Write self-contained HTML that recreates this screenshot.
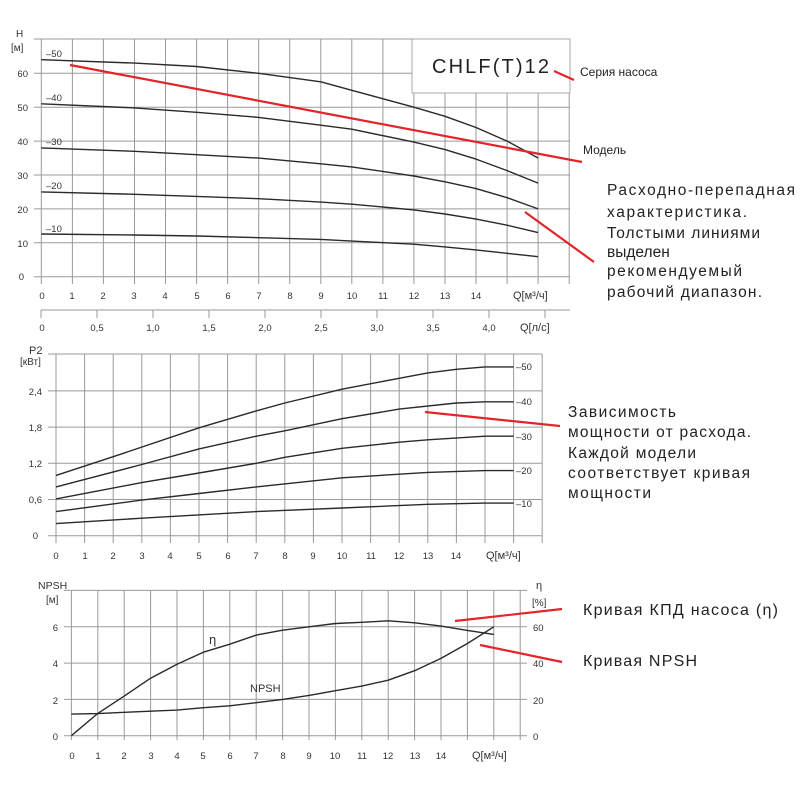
<!DOCTYPE html>
<html><head><meta charset="utf-8"><style>
html,body{margin:0;padding:0;background:#fff;}
svg{display:block;font-family:"Liberation Sans","DejaVu Sans",sans-serif;}
.g{stroke:#9a9a9a;stroke-width:1;}
.c{fill:none;stroke:#2a2a2a;stroke-width:1.4;stroke-linejoin:round;}
.t{font-size:9.5px;fill:#333;}
.r{stroke:#e3242b;stroke-width:2.2;}
.a{font-size:15.5px;fill:#222;}
</style></head><body>
<svg width="800" height="800" viewBox="0 0 800 800">
<!-- TOP CHART -->
<g class="g">
<line x1="41.3" y1="39" x2="41.3" y2="284"/><line x1="72.4" y1="39" x2="72.4" y2="284"/><line x1="103.4" y1="39" x2="103.4" y2="284"/><line x1="134.5" y1="39" x2="134.5" y2="284"/><line x1="165.5" y1="39" x2="165.5" y2="284"/><line x1="196.6" y1="39" x2="196.6" y2="284"/><line x1="227.6" y1="39" x2="227.6" y2="284"/><line x1="258.7" y1="39" x2="258.7" y2="284"/><line x1="289.7" y1="39" x2="289.7" y2="284"/><line x1="320.8" y1="39" x2="320.8" y2="284"/><line x1="351.8" y1="39" x2="351.8" y2="284"/><line x1="382.9" y1="39" x2="382.9" y2="284"/><line x1="413.9" y1="39" x2="413.9" y2="284"/><line x1="445" y1="39" x2="445" y2="284"/><line x1="476" y1="39" x2="476" y2="284"/><line x1="507.1" y1="39" x2="507.1" y2="284"/><line x1="538.1" y1="39" x2="538.1" y2="284"/><line x1="569.2" y1="39" x2="569.2" y2="284"/>
<line x1="34" y1="276.7" x2="570" y2="276.7"/><line x1="34" y1="242.8" x2="570" y2="242.8"/><line x1="34" y1="208.9" x2="570" y2="208.9"/><line x1="34" y1="175" x2="570" y2="175"/><line x1="34" y1="141.1" x2="570" y2="141.1"/><line x1="34" y1="107.2" x2="570" y2="107.2"/><line x1="34" y1="73.3" x2="570" y2="73.3"/><line x1="34" y1="39" x2="570" y2="39"/>
<line x1="41" y1="310" x2="570" y2="310"/>
<line x1="41" y1="310" x2="41" y2="318"/><line x1="97" y1="310" x2="97" y2="318"/><line x1="153" y1="310" x2="153" y2="318"/><line x1="209" y1="310" x2="209" y2="318"/><line x1="265" y1="310" x2="265" y2="318"/><line x1="321" y1="310" x2="321" y2="318"/><line x1="377" y1="310" x2="377" y2="318"/><line x1="433" y1="310" x2="433" y2="318"/><line x1="489" y1="310" x2="489" y2="318"/><line x1="545" y1="310" x2="545" y2="318"/>
</g>
<rect x="412" y="39" width="158" height="54" fill="#fff" stroke="#aaa"/>
<text x="432" y="73" font-size="20" fill="#222" textLength="117">CHLF(T)12</text>
<polyline class="c" points="41.3,59.7 134.5,63.1 196.6,66.5 258.7,73.3 320.8,81.8 351.8,90.3 413.9,107.2 445,116.3 476,127.5 507.1,141.1 538.1,158"/>
<polyline class="c" points="41.3,103.8 134.5,107.9 196.6,112.3 258.7,117.4 320.8,125.2 351.8,129.2 413.9,142.1 445,149.6 476,159.1 507.1,170.6 538.1,183.1"/>
<polyline class="c" points="41.3,147.9 134.5,151.3 196.6,154.7 258.7,158.1 320.8,163.8 351.8,166.9 413.9,176 445,181.8 476,188.6 507.1,197.7 538.1,208.9"/>
<polyline class="c" points="41.3,191.9 134.5,194.3 196.6,196.4 258.7,198.7 320.8,202.1 351.8,204.2 413.9,209.9 445,214 476,219.1 507.1,225.2 538.1,232.6"/>
<polyline class="c" points="41.3,234 134.5,235 196.6,236 258.7,237.7 320.8,239.4 351.8,241.1 413.9,244.2 445,246.9 476,249.9 507.1,253.3 538.1,256.7"/>
<g class="t">
<text x="46" y="57">‒50</text><text x="46" y="101">‒40</text><text x="46" y="145">‒30</text><text x="46" y="189">‒20</text><text x="46" y="232">‒10</text>
<text x="16" y="37" font-size="10">H</text><text x="11" y="51" font-size="10">[м]</text>
<g text-anchor="end"><text x="28" y="77">60</text><text x="28" y="111">50</text><text x="28" y="145">40</text><text x="28" y="179">30</text><text x="28" y="213">20</text><text x="28" y="247">10</text><text x="24" y="280">0</text></g>
<g text-anchor="middle"><text x="42" y="299">0</text><text x="72" y="299">1</text><text x="103" y="299">2</text><text x="134" y="299">3</text><text x="165" y="299">4</text><text x="197" y="299">5</text><text x="228" y="299">6</text><text x="259" y="299">7</text><text x="290" y="299">8</text><text x="321" y="299">9</text><text x="352" y="299">10</text><text x="383" y="299">11</text><text x="414" y="299">12</text><text x="445" y="299">13</text><text x="476" y="299">14</text>
<text x="42" y="331">0</text><text x="97" y="331">0,5</text><text x="153" y="331">1,0</text><text x="209" y="331">1,5</text><text x="265" y="331">2,0</text><text x="321" y="331">2,5</text><text x="377" y="331">3,0</text><text x="433" y="331">3,5</text><text x="489" y="331">4,0</text></g>
<text x="513" y="299" font-size="11">Q[м³/ч]</text><text x="520" y="331" font-size="11">Q[л/с]</text>
</g>
<line class="r" x1="70" y1="65" x2="582" y2="162"/>
<line class="r" x1="554" y1="71" x2="574" y2="80"/>
<line class="r" x1="525" y1="212" x2="594" y2="262"/>
<text x="580" y="76" font-size="12" fill="#222">Серия насоса</text>
<text x="583" y="154" font-size="12" fill="#222">Модель</text>
<g class="a">
<text x="607" y="195" textLength="188">Расходно-перепадная</text>
<text x="607" y="217" textLength="140">характеристика.</text>
<text x="607" y="238" textLength="153">Толстыми линиями</text>
<text x="607" y="257">выделен</text>
<text x="607" y="276" textLength="135">рекомендуемый</text>
<text x="607" y="297" textLength="155">рабочий диапазон.</text>
</g>
<!-- MIDDLE CHART -->
<g class="g">
<line x1="56" y1="354" x2="56" y2="543"/><line x1="84.6" y1="354" x2="84.6" y2="543"/><line x1="113.2" y1="354" x2="113.2" y2="543"/><line x1="141.8" y1="354" x2="141.8" y2="543"/><line x1="170.4" y1="354" x2="170.4" y2="543"/><line x1="199" y1="354" x2="199" y2="543"/><line x1="227.6" y1="354" x2="227.6" y2="543"/><line x1="256.2" y1="354" x2="256.2" y2="543"/><line x1="284.8" y1="354" x2="284.8" y2="543"/><line x1="313.4" y1="354" x2="313.4" y2="543"/><line x1="342" y1="354" x2="342" y2="543"/><line x1="370.6" y1="354" x2="370.6" y2="543"/><line x1="399.2" y1="354" x2="399.2" y2="543"/><line x1="427.8" y1="354" x2="427.8" y2="543"/><line x1="456.4" y1="354" x2="456.4" y2="543"/><line x1="485" y1="354" x2="485" y2="543"/><line x1="513.6" y1="354" x2="513.6" y2="543"/><line x1="542.2" y1="354" x2="542.2" y2="543"/>
<line x1="48" y1="535.7" x2="542" y2="535.7"/><line x1="48" y1="499.5" x2="542" y2="499.5"/><line x1="48" y1="463.3" x2="542" y2="463.3"/><line x1="48" y1="427.1" x2="542" y2="427.1"/><line x1="48" y1="390.9" x2="542" y2="390.9"/><line x1="48" y1="354" x2="542" y2="354"/>
</g>
<polyline class="c" points="56,475.4 113.2,456.7 199,427.8 256.2,410.9 284.8,403 342,389.2 399.2,378.3 427.8,372.9 456.4,369.3 485,366.9 513.6,366.9"/>
<polyline class="c" points="56,486.9 141.8,464.5 199,448.9 256.2,436.2 284.8,430.8 342,418.7 399.2,409.1 456.4,403 485,401.8 513.6,401.8"/>
<polyline class="c" points="56,498.9 141.8,482.6 199,473 256.2,463.3 284.8,457.3 342,448.3 399.2,442.2 427.8,439.8 485,436.2 513.6,436.2"/>
<polyline class="c" points="56,511.6 141.8,500.1 199,493.5 256.2,486.9 342,477.8 427.8,472.4 485,470.6 513.6,470.6"/>
<polyline class="c" points="56,523.6 141.8,518.2 256.2,511.6 342,508 427.8,504.3 485,503.1 513.6,503.1"/>
<g class="t">
<text x="516" y="370">‒50</text><text x="516" y="405">‒40</text><text x="516" y="440">‒30</text><text x="516" y="474">‒20</text><text x="516" y="507">‒10</text>
<text x="29" y="354" font-size="11">P2</text><text x="20" y="365" font-size="10">[кВт]</text>
<g text-anchor="end"><text x="42" y="395">2,4</text><text x="42" y="431">1,8</text><text x="42" y="467">1,2</text><text x="42" y="503">0,6</text><text x="38" y="539">0</text></g>
<g text-anchor="middle"><text x="56" y="559">0</text><text x="85" y="559">1</text><text x="113" y="559">2</text><text x="142" y="559">3</text><text x="170" y="559">4</text><text x="199" y="559">5</text><text x="228" y="559">6</text><text x="256" y="559">7</text><text x="285" y="559">8</text><text x="313" y="559">9</text><text x="342" y="559">10</text><text x="371" y="559">11</text><text x="399" y="559">12</text><text x="428" y="559">13</text><text x="456" y="559">14</text></g>
<text x="486" y="559" font-size="11">Q[м³/ч]</text>
</g>
<line class="r" x1="425" y1="412" x2="560" y2="426"/>
<g class="a">
<text x="568" y="417" textLength="108">Зависимость</text>
<text x="568" y="437" textLength="183">мощности от расхода.</text>
<text x="568" y="458" textLength="128">Каждой модели</text>
<text x="568" y="478" textLength="182">соответствует кривая</text>
<text x="568" y="498" textLength="83">мощности</text>
</g>
<!-- BOTTOM CHART -->
<g class="g">
<line x1="71.4" y1="590" x2="71.4" y2="740"/><line x1="97.8" y1="590" x2="97.8" y2="740"/><line x1="124.2" y1="590" x2="124.2" y2="740"/><line x1="150.6" y1="590" x2="150.6" y2="740"/><line x1="177" y1="590" x2="177" y2="740"/><line x1="203.4" y1="590" x2="203.4" y2="740"/><line x1="229.8" y1="590" x2="229.8" y2="740"/><line x1="256.2" y1="590" x2="256.2" y2="740"/><line x1="282.6" y1="590" x2="282.6" y2="740"/><line x1="309" y1="590" x2="309" y2="740"/><line x1="335.4" y1="590" x2="335.4" y2="740"/><line x1="361.8" y1="590" x2="361.8" y2="740"/><line x1="388.2" y1="590" x2="388.2" y2="740"/><line x1="414.6" y1="590" x2="414.6" y2="740"/><line x1="441" y1="590" x2="441" y2="740"/><line x1="467.4" y1="590" x2="467.4" y2="740"/><line x1="493.8" y1="590" x2="493.8" y2="740"/><line x1="520.2" y1="590" x2="520.2" y2="740"/>
<line x1="64" y1="735.7" x2="527" y2="735.7"/><line x1="64" y1="699.4" x2="527" y2="699.4"/><line x1="64" y1="663.1" x2="527" y2="663.1"/><line x1="64" y1="626.7" x2="527" y2="626.7"/><line x1="64" y1="590.4" x2="527" y2="590.4"/>
</g>
<polyline class="c" points="71.4,735.7 97.8,713.4 124.2,696.1 150.6,678.2 177,664.2 203.4,652.2 229.8,644.2 256.2,635.1 282.6,630.2 309,626.8 335.4,623.5 361.8,622.3 388.2,620.8 414.6,622.8 441,626.1 467.4,630.4 493.8,634.4"/>
<polyline class="c" points="71.4,714.1 97.8,713.6 124.2,712.3 150.6,711.2 177,710.1 203.4,707.7 229.8,705.8 256.2,702.7 282.6,699.4 309,695.4 335.4,690.7 361.8,686.1 388.2,680.2 414.6,670.7 441,658.4 467.4,643.5 493.8,626.8"/>
<g class="t">
<text x="38" y="589" font-size="10.5">NPSH</text><text x="46" y="603" font-size="10">[м]</text>
<text x="536" y="589" font-size="11">η</text><text x="532" y="606" font-size="10">[%]</text>
<text x="209" y="644" font-size="13">η</text><text x="250" y="692" font-size="11">NPSH</text>
<g text-anchor="end"><text x="58" y="631">6</text><text x="58" y="667">4</text><text x="58" y="704">2</text><text x="58" y="740">0</text></g>
<text x="533" y="631">60</text><text x="533" y="667">40</text><text x="533" y="704">20</text><text x="533" y="740">0</text>
<g text-anchor="middle"><text x="72" y="759">0</text><text x="98" y="759">1</text><text x="124" y="759">2</text><text x="151" y="759">3</text><text x="177" y="759">4</text><text x="203" y="759">5</text><text x="230" y="759">6</text><text x="256" y="759">7</text><text x="283" y="759">8</text><text x="309" y="759">9</text><text x="335" y="759">10</text><text x="362" y="759">11</text><text x="388" y="759">12</text><text x="415" y="759">13</text><text x="441" y="759">14</text></g>
<text x="472" y="759" font-size="11">Q[м³/ч]</text>
</g>
<line class="r" x1="455" y1="621" x2="562" y2="609"/>
<line class="r" x1="480" y1="645" x2="562" y2="662"/>
<text x="583" y="615" font-size="16" fill="#222" textLength="195">Кривая КПД насоса (η)</text>
<text x="583" y="666" font-size="16" fill="#222" textLength="114">Кривая NPSH</text>
</svg>
</body></html>
